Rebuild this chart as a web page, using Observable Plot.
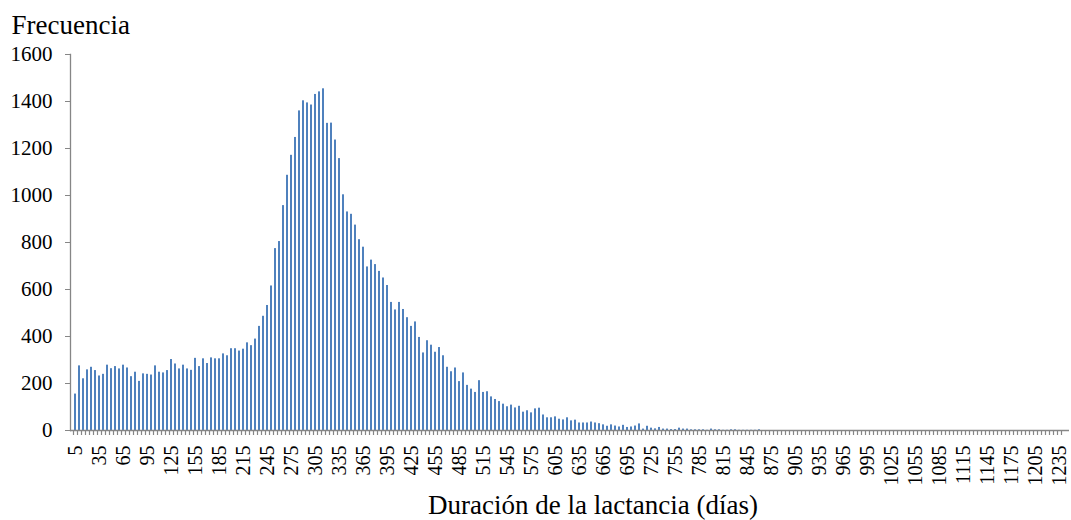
<!DOCTYPE html>
<html><head><meta charset="utf-8">
<script src="https://cdn.jsdelivr.net/npm/d3@7"></script>
<script src="https://cdn.jsdelivr.net/npm/@observablehq/plot@0.6"></script>
<style>
html,body{margin:0;padding:0;background:#fff;}
#chart svg text{font-family:'Liberation Serif','Times New Roman',serif !important;}
</style>
</head><body><div id="chart"></div>
<script>
const categories = [
5,10,15,20,25,30,35,40,45,50,55,60,65,70,75,80,85,90,95,100,
105,110,115,120,125,130,135,140,145,150,155,160,165,170,175,180,185,190,195,200,
205,210,215,220,225,230,235,240,245,250,255,260,265,270,275,280,285,290,295,300,
305,310,315,320,325,330,335,340,345,350,355,360,365,370,375,380,385,390,395,400,
405,410,415,420,425,430,435,440,445,450,455,460,465,470,475,480,485,490,495,500,
505,510,515,520,525,530,535,540,545,550,555,560,565,570,575,580,585,590,595,600,
605,610,615,620,625,630,635,640,645,650,655,660,665,670,675,680,685,690,695,700,
705,710,715,720,725,730,735,740,745,750,755,760,765,770,775,780,785,790,795,800,
805,810,815,820,825,830,835,840,845,850,855,860,865,870,875,880,885,890,895,900,
905,910,915,920,925,930,935,940,945,950,955,960,965,970,975,980,985,990,995,1000,
1005,1010,1015,1020,1025,1030,1035,1040,1045,1050,1055,1060,1065,1070,1075,1080,1085,1090,1095,1100,
1105,1110,1115,1120,1125,1130,1135,1140,1145,1150,1155,1160,1165,1170,1175,1180,1185,1190,1195,1200,
1205,1210,1215,1220,1225,1230,1235,1240
];
const frequencies = [
155,275,220,258,269,255,232,239,278,263,
272,262,278,266,229,248,209,241,239,236,
275,248,245,255,302,283,262,278,262,256,
307,272,305,285,309,305,305,326,318,348,
348,338,346,373,361,389,443,486,532,615,
774,804,957,1086,1171,1247,1360,1403,1394,1385,
1430,1441,1454,1307,1308,1236,1157,1003,930,920,
874,812,780,696,725,706,677,649,617,545,
513,545,515,480,443,462,396,330,382,363,
333,353,318,269,250,266,208,245,192,176,
162,212,162,165,143,132,123,112,101,108,
96,103,78,84,75,92,95,66,54,54,
58,48,45,54,41,44,32,32,32,36,
32,29,24,18,24,19,15,22,13,15,
19,28,6,18,10,7,13,6,6,4,
4,10,6,6,3,3,3,3,1,6,
3,3,1,1,3,3,1,1,1,1,
1,3,0,0,0,0,0,0,0,0,
0,0,0,0,0,0,0,0,0,0,
0,0,0,0,0,0,0,0,0,0,
0,0,0,0,0,0,0,0,0,0,
0,0,0,0,0,0,0,0,0,0,
0,0,0,0,0,0,0,0,0,0,
0,0,0,0,0,0,0,0,0,0,
0,0,0,0,0,0,0,0
];
const xTickLabels = [5,35,65,95,125,155,185,215,245,275,305,335,365,395,425,455,485,515,545,575,605,635,665,695,725,755,785,815,845,875,905,935,965,995,1025,1055,1085,1115,1145,1175,1205,1235];
const yTicks = [0,200,400,600,800,1000,1200,1400,1600];
const yTitle = "Frecuencia";
const xTitle = "Duración de la lactancia (días)";

const barColor = "#4F81BD";
const axisColor = "#868686";
const font = "'Liberation Serif', 'Times New Roman', serif";

const data = categories.map((c, i) => ({cat: c, val: frequencies[i]}));
const plain = d => String(d);

const chart = Plot.plot({
  width: 1071,
  height: 520,
  marginLeft: 70,
  marginRight: 2,
  marginTop: 54,
  marginBottom: 90,
  style: {fontFamily: font, background: "#fff", color: "#000", overflow: "visible"},
  x: {type: "band", domain: categories, paddingInner: 0.45, paddingOuter: 0.225, label: null},
  y: {domain: [0, 1600], label: null},
  marks: [
    Plot.barY(data, {x: "cat", y: "val", fill: barColor}),
    Plot.ruleY([0], {stroke: axisColor, strokeWidth: 1.3}),
    Plot.frame({anchor: "left", stroke: axisColor, strokeWidth: 1.3}),
    Plot.axisX(categories, {tickSize: 5, fill: "none", stroke: axisColor, strokeWidth: 1.2, dx: -2, label: null}),
    Plot.axisX(xTickLabels, {tickSize: 0, tickPadding: 15, tickRotate: -90, fontSize: 20, fontFamily: font, fill: "#000", tickFormat: plain, label: null}),
    Plot.axisY(yTicks, {tickSize: 5, tickPadding: 13, fontSize: 21, fontFamily: font, stroke: axisColor, fill: "#000", tickFormat: plain, label: null}),
    Plot.text([yTitle], {text: d => d, frameAnchor: "top-left", textAnchor: "start", lineAnchor: "middle", dx: -59, dy: -29, fontSize: 27, fontFamily: font, fill: "#000"}),
    Plot.text([xTitle], {text: d => d, frameAnchor: "bottom", textAnchor: "middle", lineAnchor: "middle", dx: 23, dy: 75, fontSize: 27, fontFamily: font, fill: "#000"})
  ]
});
document.getElementById("chart").appendChild(chart);
</script>
</body></html>
